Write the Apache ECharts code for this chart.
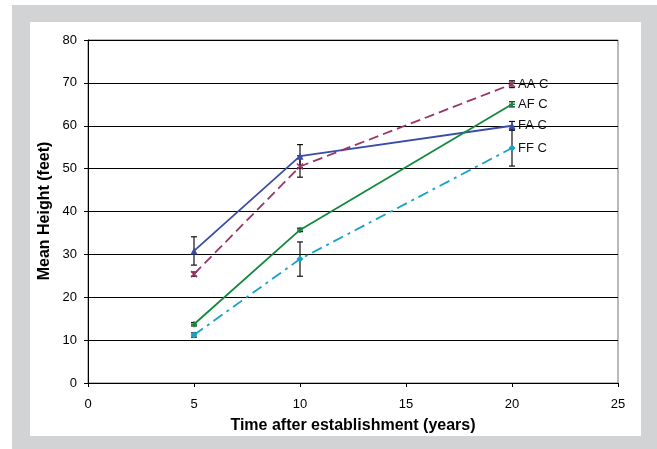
<!DOCTYPE html>
<html>
<head>
<meta charset="utf-8">
<script src="https://cdn.jsdelivr.net/npm/echarts@6/dist/echarts.min.js"></script>
<style>
  html, body { margin: 0; padding: 0; background: #ffffff; }
  #chart { width: 657px; height: 449px; }
</style>
</head>
<body>
<div id="chart"></div>
<script>
// Years after establishment
const years = [5, 10, 20];

// Mean height (feet) per treatment
const faC = [30.8, 52.9, 60.0];
const aaC = [25.4, 50.5, 69.7];
const afC = [13.7, 35.7, 65.0];
const ffC = [11.2, 28.9, 54.8];

// Half-widths of the error bars (feet)
const faErr = [3.3, 2.7, 1.0];
const aaErr = [0.5, 2.5, 0.8];
const afErr = [0.4, 0.4, 0.6];
const ffErr = [0.5, 4.0, 4.2];

// Series names shown beside the final point
const names = ['FA C', 'AA C', 'AF C', 'FF C'];

const xTicks = [0, 5, 10, 15, 20, 25];
const yTicks = [0, 10, 20, 30, 40, 50, 60, 70, 80];

const FONT = '"Liberation Sans", Arial, sans-serif';
const crossPath = 'path://M0,0L10,10M10,0L0,10';
const plusPath = 'path://M5,0L5,10M0,5L10,5';

function pts(vals) {
  return years.map((x, i) => [x, vals[i]]);
}

function errData(vals, errs) {
  return years.map((x, i) => [x, vals[i] - errs[i], vals[i] + errs[i]]);
}

function errorSeries(vals, errs) {
  return {
    type: 'custom',
    silent: true,
    z: 5,
    data: errData(vals, errs),
    renderItem: function (params, api) {
      const x = api.value(0);
      const lo = api.coord([x, api.value(1)]);
      const hi = api.coord([x, api.value(2)]);
      const cap = 3;
      const style = { stroke: '#111', lineWidth: 1.2 };
      return {
        type: 'group',
        children: [
          { type: 'line', shape: { x1: lo[0], y1: lo[1], x2: hi[0], y2: hi[1] }, style: style },
          { type: 'line', shape: { x1: lo[0] - cap, y1: lo[1], x2: lo[0] + cap, y2: lo[1] }, style: style },
          { type: 'line', shape: { x1: hi[0] - cap, y1: hi[1], x2: hi[0] + cap, y2: hi[1] }, style: style }
        ]
      };
    }
  };
}

function lineSeries(name, vals, color, lineType, symbol, size) {
  return {
    name: name,
    type: 'line',
    data: pts(vals),
    z: 6,
    symbol: symbol,
    symbolSize: size,
    showAllSymbol: true,
    lineStyle: { color: color, width: 1.8, type: lineType },
    itemStyle: { color: color, borderColor: color, borderWidth: symbol.startsWith('path') ? 1.5 : 0 },
    label: { show: false },
    endLabel: {
      show: true,
      formatter: name,
      color: '#111',
      fontFamily: FONT,
      fontSize: 13,
      distance: 6
    }
  };
}

const chart = echarts.init(document.getElementById('chart'), null, { renderer: 'canvas' });

chart.setOption({
  animation: false,
  backgroundColor: '#ffffff',
  graphic: [
    { type: 'rect', z: -10, shape: { x: 12, y: 5, width: 645, height: 444 }, style: { fill: '#d2d3d5' } },
    { type: 'rect', z: -9, shape: { x: 30, y: 22, width: 611, height: 414 }, style: { fill: '#ffffff' } },
    {
      type: 'text', z: 10,
      x: 45, y: 211, rotation: Math.PI / 2,
      style: {
        text: 'Mean Height (feet)',
        font: 'bold 16px ' + FONT,
        fill: '#000', align: 'center', verticalAlign: 'middle'
      }
    }
  ],
  grid: { left: 88, top: 40, right: 39, bottom: 66, show: true, borderColor: '#777', borderWidth: 1, backgroundColor: 'transparent' },
  xAxis: {
    type: 'value',
    min: xTicks[0], max: xTicks[xTicks.length - 1], interval: 5,
    name: 'Time after establishment (years)',
    nameLocation: 'middle', nameGap: 35,
    nameTextStyle: { fontFamily: FONT, fontWeight: 'bold', fontSize: 16, color: '#000' },
    axisLine: { lineStyle: { color: '#000', width: 1 } },
    axisTick: { show: true, length: 4, lineStyle: { color: '#000' } },
    axisLabel: { color: '#000', fontFamily: FONT, fontSize: 13, margin: 15 },
    splitLine: { show: false }
  },
  yAxis: {
    type: 'value',
    min: yTicks[0], max: yTicks[yTicks.length - 1], interval: 10,
    axisLine: { show: true, lineStyle: { color: '#000', width: 1 } },
    axisTick: { show: true, length: 4, lineStyle: { color: '#000' } },
    axisLabel: { color: '#000', fontFamily: FONT, fontSize: 13, margin: 11 },
    splitLine: { show: true, lineStyle: { color: '#000', width: 1 } }
  },
  series: [
    errorSeries(faC, faErr),
    errorSeries(aaC, aaErr),
    errorSeries(afC, afErr),
    errorSeries(ffC, ffErr),
    lineSeries(names[0], faC, '#3a4ca6', 'solid', 'triangle', 7),
    lineSeries(names[1], aaC, '#9a3468', [10, 5], crossPath, 6),
    lineSeries(names[2], afC, '#118a3c', 'solid', plusPath, 6),
    lineSeries(names[3], ffC, '#16a2c8', [11, 5, 3, 5], 'diamond', 7)
  ]
});
</script>
</body>
</html>
